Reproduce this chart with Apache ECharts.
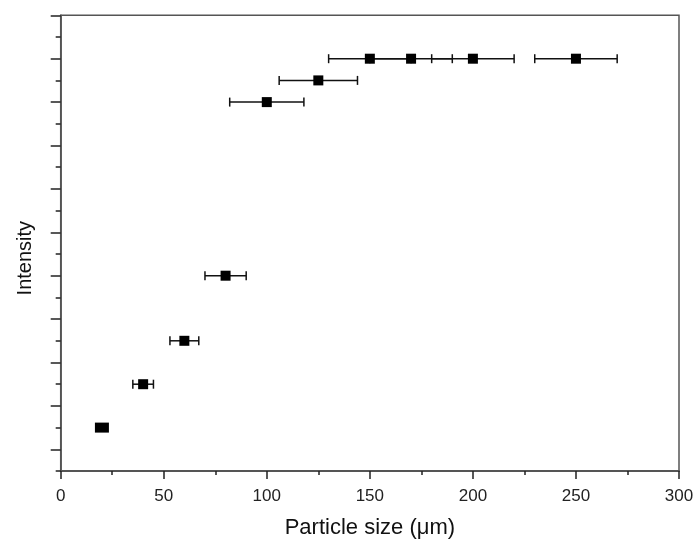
<!DOCTYPE html>
<html>
<head>
<meta charset="utf-8">
<script src="https://cdn.jsdelivr.net/npm/echarts@6/dist/echarts.min.js"></script>
<style>html,body{margin:0;padding:0;background:#fff;}#c{width:698px;height:545px;}</style>
</head>
<body>
<div id="c"></div>
<script>
// Particle size (µm)
var sizes = [20, 40, 60, 80, 100, 125, 150, 170, 200, 250];
// Intensity (arbitrary units)
var intensity = [2, 4, 6, 9, 17, 18, 19, 19, 19, 19];
// Half-width of the horizontal error bars (µm)
var sizeErr = [2, 5, 7, 10, 18, 19, 20, 20, 20, 20];
// Tick positions on the unlabelled intensity axis
var yMajorTicks = [1, 3, 5, 7, 9, 11, 13, 15, 17, 19, 21];
var yAllTicks = [0, 1, 2, 3, 4, 5, 6, 7, 8, 9, 10, 11, 12, 13, 14, 15, 16, 17, 18, 19, 20, 21];

var FONT = 'Liberation Sans, Arial, sans-serif';
var AXIS_COLOR = '#555';

var pts = sizes.map(function (x, i) { return [x, intensity[i]]; });
var errs = sizes.map(function (x, i) { return [x - sizeErr[i], x + sizeErr[i], intensity[i]]; });

var chart = echarts.init(document.getElementById('c'));
chart.setOption({
  animation: false,
  backgroundColor: '#fff',
  grid: {
    left: 60.7, right: 19, top: 15.3, bottom: 74,
    show: true, borderColor: AXIS_COLOR, borderWidth: 1.5, backgroundColor: 'transparent'
  },
  xAxis: {
    type: 'value', min: 0, max: 300, interval: 50,
    name: 'Particle size (\u03bcm)', nameLocation: 'middle', nameGap: 46,
    nameTextStyle: { fontFamily: FONT, fontSize: 22, color: '#111' },
    axisLine: { show: true, lineStyle: { color: AXIS_COLOR, width: 1.8 } },
    axisTick: { show: true, inside: false, length: 8, lineStyle: { color: '#222', width: 1.5 } },
    minorTick: { show: true, splitNumber: 2, length: 4, lineStyle: { color: '#222', width: 1.5 } },
    axisLabel: { fontFamily: FONT, fontSize: 17, color: '#222', margin: 17 },
    splitLine: { show: false }
  },
  yAxis: [{
    type: 'value', min: 0, max: 21, position: 'left',
    name: 'Intensity', nameLocation: 'middle', nameGap: 25,
    nameTextStyle: { fontFamily: FONT, fontSize: 20, color: '#111', padding: [0, 30, 0, 0] },
    axisLine: { show: true, onZero: false, lineStyle: { color: AXIS_COLOR, width: 1.8 } },
    axisTick: { show: true, inside: false, length: 5, customValues: yAllTicks, lineStyle: { color: '#222', width: 1.5 } },
    axisLabel: { show: false },
    splitLine: { show: false }
  }, {
    type: 'value', min: 0, max: 21, position: 'left', offset: 0,
    axisLine: { show: false },
    axisTick: { show: true, inside: false, length: 10, customValues: yMajorTicks, lineStyle: { color: '#222', width: 1.5 } },
    axisLabel: { show: false },
    splitLine: { show: false }
  }],
  series: [{
    type: 'custom',
    yAxisIndex: 0,
    data: errs,
    renderItem: function (params, api) {
      var y = api.value(2);
      var p1 = api.coord([api.value(0), y]);
      var p2 = api.coord([api.value(1), y]);
      var h = 4.5;
      var st = { stroke: '#111', lineWidth: 1.5 };
      return {
        type: 'group',
        children: [
          { type: 'line', shape: { x1: p1[0], y1: p1[1], x2: p2[0], y2: p2[1] }, style: st },
          { type: 'line', shape: { x1: p1[0], y1: p1[1] - h, x2: p1[0], y2: p1[1] + h }, style: st },
          { type: 'line', shape: { x1: p2[0], y1: p2[1] - h, x2: p2[0], y2: p2[1] + h }, style: st }
        ]
      };
    },
    z: 2
  }, {
    type: 'scatter',
    yAxisIndex: 0,
    data: pts,
    symbol: 'rect',
    symbolSize: function (v, params) { return params.dataIndex === 0 ? [14, 10] : [10, 10]; },
    itemStyle: { color: '#000', opacity: 1 },
    z: 3
  }]
});
</script>
</body>
</html>
